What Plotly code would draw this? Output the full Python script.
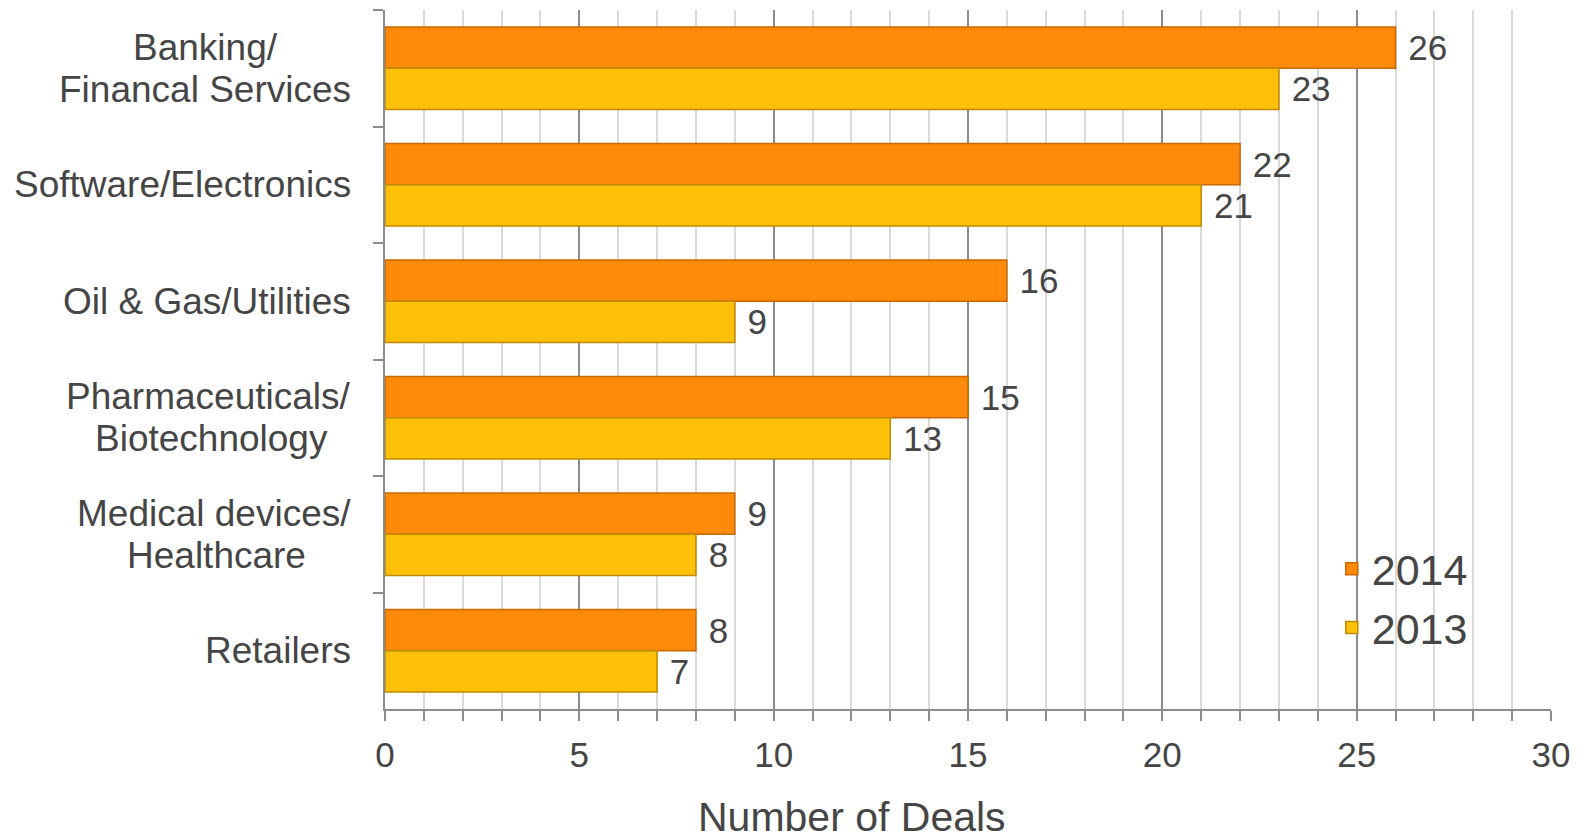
import plotly.graph_objects as go

categories = ["Banking/<br>Financal Services", "Software/Electronics", "Oil & Gas/Utilities",
              "Pharmaceuticals/<br>Biotechnology", "Medical devices/<br>Healthcare", "Retailers"]
deals_2014 = [26, 22, 16, 15, 9, 8]
deals_2013 = [23, 21, 9, 13, 8, 7]
x_ticks = [0, 5, 10, 15, 20, 25, 30]

FONT = "Liberation Sans, Arial, sans-serif"
TXT = "#454545"
LBL_SIZE = 37

fig = go.Figure()
fig.add_trace(go.Bar(
    y=categories, x=deals_2014, name="2014", orientation="h",
    marker=dict(color="#FF8A0A", line=dict(color="#C86A00", width=1.5)),
    text=deals_2014, texttemplate=" %{x}", textposition="outside",
    textfont=dict(size=35, color=TXT, family=FONT), cliponaxis=False,
))
fig.add_trace(go.Bar(
    y=categories, x=deals_2013, name="2013", orientation="h",
    marker=dict(color="#FFC00A", line=dict(color="#C08A00", width=1.5)),
    text=deals_2013, texttemplate=" %{x}", textposition="outside",
    textfont=dict(size=35, color=TXT, family=FONT), cliponaxis=False,
))


def approx_width(s, size):
    w = {'i': .222, 'l': .222, 'j': .222, 'f': .278, 't': .278, 'r': .333, '/': .278, ' ': .278,
         'I': .278, 'm': .833, 'w': .722, 'M': .833, 'W': .944, '&': .667, 'c': .5, 's': .5,
         'k': .5, 'y': .5, 'v': .5, 'x': .5, 'z': .5, 'J': .5}
    total = 0
    for ch in s:
        if ch in w:
            total += w[ch]
        elif ch.isupper():
            total += 0.667
        else:
            total += 0.556
    return total * size


# category labels: centred multi-line blocks, right edge next to the axis
LINE_GAP = 42
RIGHT_SHIFT = -32
for c in categories:
    lines = c.split("<br>")
    n = len(lines)
    widths = [approx_width(l, LBL_SIZE) for l in lines]
    wmax = max(widths)
    for i, ln in enumerate(lines):
        ys = (n - 1) / 2 * LINE_GAP - i * LINE_GAP
        if widths[i] == wmax:
            fig.add_annotation(x=0, xref="paper", y=c, yref="y", text=ln, showarrow=False,
                               xanchor="right", yanchor="middle", xshift=RIGHT_SHIFT, yshift=ys,
                               font=dict(size=LBL_SIZE, color=TXT, family=FONT))
        else:
            fig.add_annotation(x=0, xref="paper", y=c, yref="y", text=ln, showarrow=False,
                               xanchor="center", yanchor="middle",
                               xshift=RIGHT_SHIFT - wmax / 2, yshift=ys,
                               font=dict(size=LBL_SIZE, color=TXT, family=FONT))

fig.add_annotation(x=0.4005, xref="paper", y=-0.155, yref="paper", text="Number of Deals",
                   showarrow=False, xanchor="center", yanchor="middle",
                   font=dict(size=41, color=TXT, family=FONT))

fig.update_layout(
    width=1586, height=840,
    margin=dict(l=385, r=35, t=10, b=131),
    paper_bgcolor="white", plot_bgcolor="white",
    barmode="group", bargap=0.29, bargroupgap=0,
    font=dict(family=FONT, color=TXT),
    showlegend=True,
    legend=dict(x=0.812, y=0.25, xanchor="left", yanchor="top",
                font=dict(size=43, color=TXT, family=FONT),
                bgcolor="rgba(0,0,0,0)", traceorder="normal"),
)
fig.update_xaxes(
    range=[0, 30], tickvals=x_ticks, ticktext=[str(v) for v in x_ticks],
    showgrid=True, gridcolor="#8C8C8C", gridwidth=1.5,
    ticks="outside", ticklen=10, tickcolor="#8C8C8C", tickwidth=1.5,
    showline=True, linecolor="#8C8C8C", linewidth=1.5,
    tickfont=dict(size=35, color=TXT, family=FONT),
    minor=dict(dtick=1, showgrid=True, gridcolor="#DADADA", gridwidth=1.5,
               ticks="outside", ticklen=10, tickcolor="#8C8C8C", tickwidth=1.5),
    zeroline=False, ticklabelstandoff=4,
)
fig.update_yaxes(
    autorange="reversed", showticklabels=False,
    ticks="outside", tickson="boundaries", ticklen=10, tickcolor="#8C8C8C", tickwidth=1.5,
    showline=True, linecolor="#8C8C8C", linewidth=1.5, showgrid=False,
)

fig.write_html("out.html")
